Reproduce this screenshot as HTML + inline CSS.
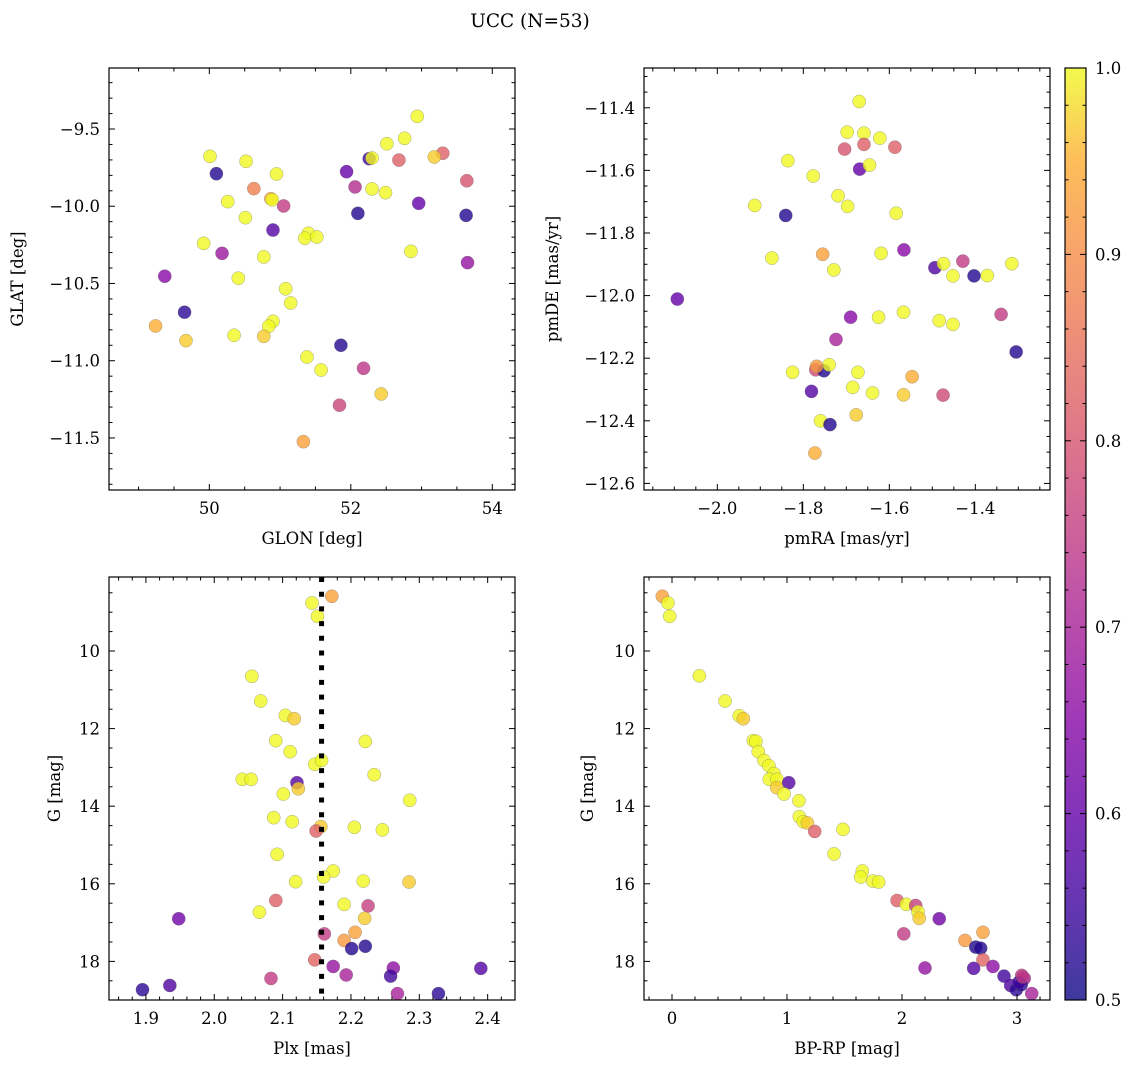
<!DOCTYPE html>
<html><head><meta charset="utf-8"><style>
body{margin:0;background:#fff;}
svg{display:block;font-family:"DejaVu Serif","Liberation Serif",serif;}
</style></head><body>
<svg id="fig" width="1136" height="1067" viewBox="0 0 1136 1067" xmlns="http://www.w3.org/2000/svg">
<text x="530" y="27" text-anchor="middle" font-size="18.5">UCC (N=53)</text>
</svg>
<script>
// Panel 1: GLON / GLAT
const glon=[52.94,52.76,52.51,53.30,53.18,52.68,52.26,52.30,50.01,50.52,50.10,50.95,51.94,50.63,52.06,52.30,52.49,53.64,50.26,50.87,50.89,51.05,52.96,50.51,52.10,53.63,50.90,51.40,51.35,51.52,49.92,50.18,50.77,52.85,53.65,49.37,50.41,51.08,51.15,49.65,49.24,50.90,50.84,50.35,50.77,49.67,51.86,51.38,52.18,51.58,52.43,51.84,51.33];
const glat=[-9.418,-9.560,-9.595,-9.657,-9.681,-9.701,-9.692,-9.688,-9.677,-9.709,-9.789,-9.791,-9.776,-9.886,-9.875,-9.888,-9.912,-9.835,-9.970,-9.951,-9.958,-9.998,-9.981,-10.074,-10.046,-10.059,-10.154,-10.175,-10.207,-10.199,-10.240,-10.305,-10.328,-10.292,-10.365,-10.453,-10.466,-10.534,-10.626,-10.686,-10.775,-10.745,-10.777,-10.835,-10.842,-10.870,-10.900,-10.976,-11.049,-11.060,-11.215,-11.288,-11.524];
const prob1=[1,1,1,.82,.97,.82,.55,1,1,1,.52,1,.6,.88,.72,1,1,.8,1,.95,1,.75,.6,1,.52,.52,.58,1,1,1,1,.68,1,1,.67,.65,1,1,1,.53,.95,1,1,1,.97,.97,.52,1,.74,1,.97,.77,.93];
// Panel 2: pmRA / pmDE
const pmra=[-1.670,-1.698,-1.659,-1.622,-1.704,-1.659,-1.587,-1.836,-1.669,-1.646,-1.777,-1.719,-1.697,-1.913,-1.841,-1.584,-1.873,-1.755,-1.729,-1.619,-1.566,-1.494,-1.474,-1.429,-1.452,-1.403,-1.372,-1.315,-2.093,-1.690,-1.625,-1.567,-1.484,-1.452,-1.340,-1.724,-1.305,-1.825,-1.771,-1.752,-1.740,-1.769,-1.673,-1.547,-1.781,-1.685,-1.639,-1.567,-1.475,-1.677,-1.760,-1.738,-1.773];
const pmde=[-11.38,-11.478,-11.481,-11.497,-11.532,-11.517,-11.526,-11.569,-11.596,-11.583,-11.618,-11.681,-11.715,-11.712,-11.744,-11.737,-11.880,-11.868,-11.918,-11.865,-11.854,-11.911,-11.898,-11.890,-11.937,-11.937,-11.936,-11.898,-12.011,-12.069,-12.069,-12.053,-12.080,-12.092,-12.060,-12.140,-12.180,-12.245,-12.237,-12.240,-12.221,-12.226,-12.245,-12.259,-12.306,-12.293,-12.311,-12.317,-12.318,-12.381,-12.400,-12.412,-12.503];
const prob2=[1,1,1,1,.8,.82,.82,1,.6,1,1,1,1,1,.52,1,1,.93,1,1,.65,.57,1,.75,1,.52,1,1,.6,.65,1,1,1,1,.75,.7,.52,1,.78,.52,1,.92,1,.95,.58,1,1,.97,.78,.97,1,.52,.95];
// Panel 3: Plx / G
const plx=[2.172,2.143,2.151,2.055,2.068,2.104,2.117,2.090,2.221,2.111,2.147,2.157,2.234,2.041,2.054,2.121,2.123,2.101,2.286,2.087,2.114,2.156,2.205,2.246,2.149,2.092,2.174,2.160,2.119,2.218,2.285,2.090,2.190,2.225,1.948,2.066,2.220,2.161,2.206,2.190,2.201,2.221,2.147,2.174,2.262,2.390,2.083,2.193,2.258,1.935,1.895,2.268,2.328];
const gmag3=[8.590,8.763,9.106,10.652,11.289,11.66,11.745,12.31,12.33,12.595,12.92,12.82,13.188,13.307,13.307,13.394,13.55,13.686,13.848,14.296,14.40,14.526,14.544,14.61,14.639,15.24,15.67,15.825,15.946,15.93,15.954,16.43,16.53,16.57,16.90,16.73,16.89,17.29,17.25,17.46,17.67,17.61,17.96,18.13,18.17,18.18,18.44,18.35,18.38,18.62,18.73,18.83,18.83];
const prob3=[.93,1,1,1,1,1,.97,1,1,1,1,1,1,1,1,.58,.97,1,1,1,1,.97,1,1,.82,1,1,1,1,1,.97,.82,1,.76,.62,1,.97,.75,.93,.92,.52,.52,.83,.67,.66,.58,.75,.7,.55,.57,.53,.7,.53];
const plxRef=[2.157];
// Panel 4: BP-RP / G
const bprp=[-0.084,-0.035,-0.020,0.238,0.461,0.585,0.620,0.707,0.730,0.750,0.800,0.843,0.887,0.846,0.913,1.015,0.910,0.974,1.104,1.107,1.142,1.177,1.241,1.487,1.409,1.655,1.641,1.745,1.797,1.957,2.037,2.119,2.139,2.150,2.324,2.015,2.704,2.548,2.641,2.684,2.704,2.200,2.791,2.623,3.041,3.063,2.887,2.945,2.994,3.128,3.037,3.017,3.05];
const gmag4=[8.590,8.763,9.106,10.64,11.289,11.67,11.745,12.31,12.33,12.595,12.82,12.96,13.16,13.307,13.307,13.394,13.52,13.686,13.86,14.27,14.40,14.43,14.65,14.597,15.23,15.67,15.825,15.93,15.954,16.43,16.53,16.56,16.72,16.89,16.90,17.29,17.25,17.46,17.63,17.66,17.96,18.17,18.13,18.18,18.36,18.44,18.38,18.62,18.73,18.83,18.60,18.54,18.40];
const prob4=[.93,1,1,1,1,1,.97,1,1,1,1,1,1,1,1,.58,.97,1,1,1,1,.97,.82,1,1,1,1,1,1,.82,1,.76,1,.97,.62,.75,.93,.92,.52,.52,.83,.67,.66,.58,.75,.7,.55,.57,.53,.7,.53,.55,.75];
const cbTicks=[0.5,0.6,0.7,0.8,0.9,1.0];

const NS="http://www.w3.org/2000/svg";
const svg=document.getElementById('fig');
function mk(tag,attrs,parent){const e=document.createElementNS(NS,tag);for(const k in attrs)e.setAttribute(k,attrs[k]);(parent||svg).appendChild(e);return e;}
const plasmaStops=[[0,[13,8,135]],[0.1,[62,4,156]],[0.2,[99,0,167]],[0.3,[135,7,166]],[0.4,[166,32,152]],[0.5,[192,58,131]],[0.6,[213,84,110]],[0.7,[231,111,90]],[0.8,[245,140,70]],[0.9,[253,173,50]],[1,[240,249,33]]];
function plasma(t){t=Math.max(0,Math.min(1,t));for(let i=1;i<plasmaStops.length;i++){if(t<=plasmaStops[i][0]){const a=plasmaStops[i-1],b=plasmaStops[i];const f=(t-a[0])/(b[0]-a[0]);const c=a[1].map((v,j)=>Math.round(v+(b[1][j]-v)*f));return `rgb(${c[0]},${c[1]},${c[2]})`;}}return 'rgb(240,249,33)';}
function pcol(p){return plasma((p-0.5)/0.5);}

function fmt(v,d){const s=v.toFixed(d);return v<0?'\u2212'+s.slice(1):s;}

function panel(o){
  const {x0,x1,y0,y1,xmin,xmax,ymin,ymax,name}=o;
  const sx=v=>x0+(v-xmin)/(xmax-xmin)*(x1-x0);
  const sy=v=>o.invert? y0+(v-ymin)/(ymax-ymin)*(y1-y0) : y1-(v-ymin)/(ymax-ymin)*(y1-y0);
  const g=mk('g',{});
  
  
  const cid='clip-'+name;
  const cp=mk('clipPath',{id:cid},g);mk('rect',{x:x0,y:y0,width:x1-x0,height:y1-y0},cp);
  const pts=mk('g',{'clip-path':`url(#${cid})`},g);
  
  
  for(let i=0;i<o.xs.length;i++){
    const c=mk('circle',{cx:sx(o.xs[i]),cy:sy(o.ys[i]),r:6.6,fill:pcol(o.ps[i]),'fill-opacity':0.8,stroke:'#666','stroke-opacity':0.55,'stroke-width':0.5},pts);
    
    
  }
  if(o.vline){for(const v of o.vline){const l=mk('line',{x1:sx(v),x2:sx(v),y1:y0,y2:y1,stroke:'#000','stroke-width':5,'stroke-dasharray':'5 9.7'},g);
    
    }}
  mk('rect',{x:x0,y:y0,width:x1-x0,height:y1-y0,fill:'none',stroke:'#000','stroke-width':1.2},g);
  const eps=1e-9;
  for(let v=Math.ceil(xmin/o.xminor-eps)*o.xminor; v<=xmax+eps; v+=o.xminor){
    const X=sx(v);
    const maj=Math.abs(v/o.xmajor-Math.round(v/o.xmajor))<1e-6;
    const L=maj?6:3.5;
    mk('line',{x1:X,x2:X,y1:y1,y2:y1-L,stroke:'#000','stroke-width':1},g);
    mk('line',{x1:X,x2:X,y1:y0,y2:y0+L,stroke:'#000','stroke-width':1},g);
    if(maj){const t=mk('text',{x:X,y:y1+24,'text-anchor':'middle','font-size':16.5},g);t.textContent=fmt(Math.round(v/o.xmajor)*o.xmajor,o.xdec);
      }
  }
  for(let v=Math.ceil(ymin/o.yminor-eps)*o.yminor; v<=ymax+eps; v+=o.yminor){
    const Y=sy(v);
    const maj=Math.abs(v/o.ymajor-Math.round(v/o.ymajor))<1e-6;
    const L=maj?6:3.5;
    mk('line',{x1:x0,x2:x0+L,y1:Y,y2:Y,stroke:'#000','stroke-width':1},g);
    mk('line',{x1:x1,x2:x1-L,y1:Y,y2:Y,stroke:'#000','stroke-width':1},g);
    if(maj){const t=mk('text',{x:x0-9,y:Y+6,'text-anchor':'end','font-size':16.5},g);t.textContent=fmt(Math.round(v/o.ymajor)*o.ymajor,o.ydec);
      }
  }
  const xl=mk('text',{x:(x0+x1)/2,y:y1+54,'text-anchor':'middle','font-size':16.5},g);xl.textContent=o.xlabel;
  
  const yl=mk('text',{x:0,y:0,'text-anchor':'middle','font-size':16.5,transform:`translate(${o.ylx},${(y0+y1)/2}) rotate(-90)`},g);yl.textContent=o.ylabel;
  
}

panel({name:'glon-glat-panel',x0:109,x1:515,y0:68,y1:490,xmin:48.582,xmax:54.321,ymin:-11.837,ymax:-9.105,xs:glon,ys:glat,ps:prob1,xmajor:2,xminor:0.5,ymajor:0.5,yminor:0.1,xdec:0,ydec:1,xlabel:'GLON [deg]',ylabel:'GLAT [deg]',ylx:23});
panel({name:'proper-motion-panel',x0:644,x1:1050,y0:68,y1:490,xmin:-2.1705,xmax:-1.2263,ymin:-12.621,ymax:-11.273,xs:pmra,ys:pmde,ps:prob2,xmajor:0.2,xminor:0.05,ymajor:0.2,yminor:0.05,xdec:1,ydec:1,xlabel:'pmRA [mas/yr]',ylabel:'pmDE [mas/yr]',ylx:558});
panel({name:'plx-g-panel',x0:109,x1:515,y0:577,y1:1000,xmin:1.846,xmax:2.440,ymin:8.093,ymax:18.995,invert:true,xs:plx,ys:gmag3,ps:prob3,vline:plxRef,xmajor:0.1,xminor:0.02,ymajor:2,yminor:0.5,xdec:1,ydec:0,xlabel:'Plx [mas]',ylabel:'G [mag]',ylx:60});
panel({name:'cmd-panel',x0:644,x1:1050,y0:577,y1:1000,xmin:-0.2435,xmax:3.287,ymin:8.093,ymax:18.995,invert:true,xs:bprp,ys:gmag4,ps:prob4,xmajor:1,xminor:0.2,ymajor:2,yminor:0.5,xdec:0,ydec:0,xlabel:'BP-RP [mag]',ylabel:'G [mag]',ylx:593});

// colorbar
const cb=mk('g',{});


const defs=mk('defs',{},cb);
const lg=mk('linearGradient',{id:'cbgrad',x1:0,y1:1,x2:0,y2:0},defs);
for(let i=0;i<=20;i++){mk('stop',{offset:i/20,'stop-color':plasma(i/20)},lg);}
const cx0=1065,cx1=1086,cy0=68,cy1=1000;
mk('rect',{x:cx0,y:cy0,width:cx1-cx0,height:cy1-cy0,fill:'url(#cbgrad)','fill-opacity':0.8,stroke:'#000','stroke-width':1.2},cb);
const cby=v=>cy1-(v-0.5)/0.5*(cy1-cy0);
for(let v=0.5;v<=1.0001;v+=0.02){const Y=cby(v);const maj=Math.abs(v*10-Math.round(v*10))<1e-6;const L=maj?6:3.5;
  mk('line',{x1:cx1,x2:cx1-L,y1:Y,y2:Y,stroke:'#000','stroke-width':1},cb);
  mk('line',{x1:cx0,x2:cx0+L,y1:Y,y2:Y,stroke:'#000','stroke-width':1},cb);}
for(const v of cbTicks){const t=mk('text',{x:cx1+9,y:cby(v)+6,'font-size':16.5},cb);t.textContent=v.toFixed(1);
  }
</script>
</body></html>
